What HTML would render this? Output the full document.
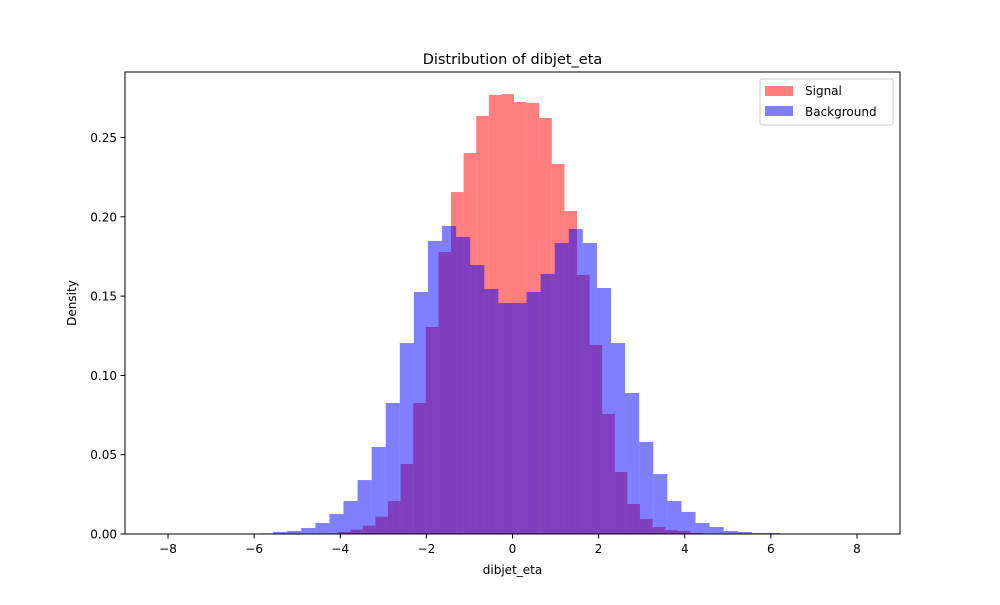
<!DOCTYPE html>
<html><head><meta charset="utf-8"><style>
body{margin:0;background:#fff;font-family:"Liberation Sans","DejaVu Sans",sans-serif;}
svg text{font-family:"DejaVu Sans","Liberation Sans",sans-serif;}
</style></head><body>
<svg id="chart" width="1000" height="600" xmlns="http://www.w3.org/2000/svg">
<rect width="1000" height="600" fill="#fff"/>
<g id="bars"></g>
<rect x="125" y="72" width="775" height="462" fill="none" stroke="#000" stroke-width="1"/>
<g id="axes"></g>
<text x="512.5" y="64" text-anchor="middle" font-size="14.5">Distribution of dibjet_eta</text>
<text x="512.5" y="574" text-anchor="middle" font-size="12">dibjet_eta</text>
<text transform="translate(76,303) rotate(-90)" text-anchor="middle" font-size="12">Density</text>
<g>
<rect x="760" y="79" width="133" height="46" rx="2" fill="#fff" fill-opacity="0.8" stroke="#ccc"/>
<rect x="765" y="86" width="28" height="10" fill="rgba(255,0,0,0.5)"/>
<text x="805" y="95" font-size="12">Signal</text>
<rect x="765" y="106" width="28" height="10" fill="rgba(0,0,255,0.5)"/>
<text x="805" y="116" font-size="12">Background</text>
</g>
</svg>
<script>
const sigStart = -4.354;
const sigWidth = 0.2926;
const signalValues = [0.0004,0.0013,0.0027,0.0052,0.0109,0.0208,0.0441,0.0826,0.1305,0.1778,0.2156,0.2402,0.2636,0.2768,0.2774,0.2724,0.2718,0.2623,0.2333,0.2037,0.1633,0.1192,0.0757,0.0391,0.0189,0.0095,0.0044,0.0025,0.0019,0.0006];
const bgStart = -5.887;
const bgWidth = 0.327;
const backgroundValues = [0.0004,0.0013,0.0019,0.0038,0.0069,0.0126,0.0208,0.0340,0.0549,0.0826,0.1204,0.1526,0.1848,0.1942,0.1873,0.1696,0.1545,0.1457,0.1457,0.1526,0.1640,0.1835,0.1923,0.1835,0.1551,0.1204,0.0889,0.0580,0.0378,0.0208,0.0139,0.0069,0.0044,0.0019,0.0013,0.0006,0.0006];
const xTicks = [-8,-6,-4,-2,0,2,4,6,8];
const yTicks = [0,0.05,0.10,0.15,0.20,0.25];
const yTickLabels = ["0.00","0.05","0.10","0.15","0.20","0.25"];

const NS = "http://www.w3.org/2000/svg";
function xs(v){ return 512.5 + v*43.06; }
function ys(v){ return 534 - v*1586; }
const bars = document.getElementById('bars');
function drawSeries(start, w, vals, color, name){
  vals.forEach((v,i)=>{
    const r = document.createElementNS(NS,'rect');
    const x0 = xs(start+i*w), x1 = xs(start+(i+1)*w);
    r.setAttribute('x', x0); r.setAttribute('width', x1-x0);
    r.setAttribute('y', ys(v)); r.setAttribute('height', 534-ys(v));
    r.setAttribute('fill', color);
    
    
    bars.appendChild(r);
  });
}
drawSeries(sigStart, sigWidth, signalValues, 'rgba(255,0,0,0.5)', 'signal-bar');
drawSeries(bgStart, bgWidth, backgroundValues, 'rgba(0,0,255,0.5)', 'background-bar');

const axes = document.getElementById('axes');
xTicks.forEach(t=>{
  const l = document.createElementNS(NS,'line');
  l.setAttribute('x1', xs(t)); l.setAttribute('x2', xs(t));
  l.setAttribute('y1', 534); l.setAttribute('y2', 538.5);
  l.setAttribute('stroke', '#000');
  
  
  axes.appendChild(l);
  const tx = document.createElementNS(NS,'text');
  tx.setAttribute('x', xs(t)); tx.setAttribute('y', 553);
  tx.setAttribute('text-anchor', 'middle'); tx.setAttribute('font-size', '12');
  tx.textContent = t < 0 ? '\u2212' + Math.abs(t) : String(t);
  
  
  axes.appendChild(tx);
});
yTicks.forEach((t,i)=>{
  const l = document.createElementNS(NS,'line');
  l.setAttribute('x1', 120.5); l.setAttribute('x2', 125);
  l.setAttribute('y1', ys(t)); l.setAttribute('y2', ys(t));
  l.setAttribute('stroke', '#000');
  
  
  axes.appendChild(l);
  const tx = document.createElementNS(NS,'text');
  tx.setAttribute('x', 117); tx.setAttribute('y', ys(t)+4.5);
  tx.setAttribute('text-anchor', 'end'); tx.setAttribute('font-size', '12');
  tx.textContent = yTickLabels[i];
  
  
  axes.appendChild(tx);
});
</script>
</body></html>
